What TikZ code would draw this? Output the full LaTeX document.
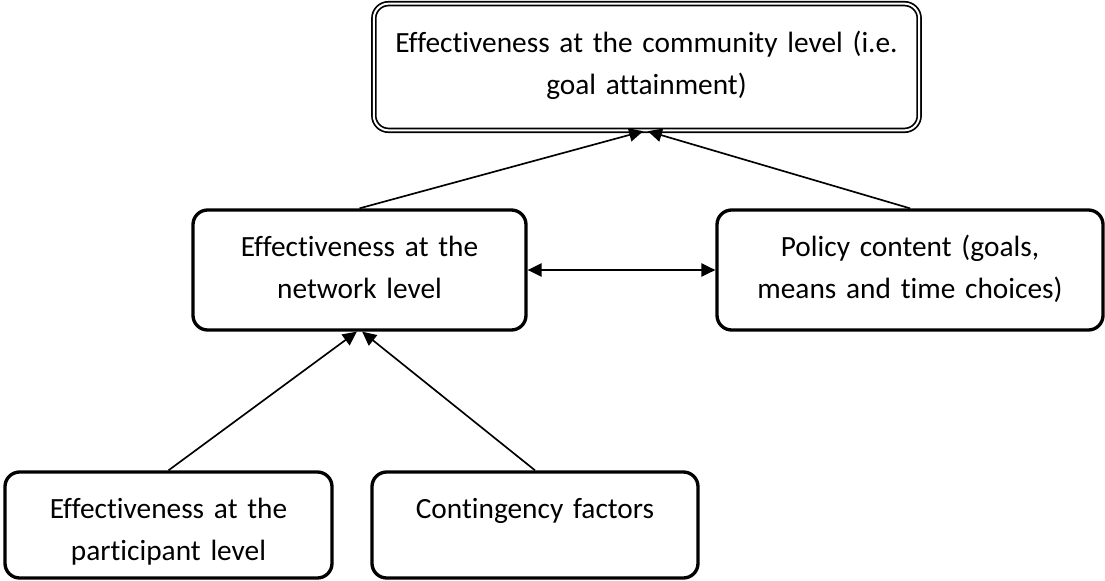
\documentclass[tikz,border=0pt]{standalone}
\usepackage{fontspec}
\setmainfont{Carlito}[Ligatures=NoCommon]
\usetikzlibrary{arrows.meta,positioning}

\begin{document}
\begin{tikzpicture}[
    x=0.75pt, y=-0.75pt,
    >={Triangle[length=10.5pt, width=10pt]},
    box/.style={rectangle, draw, line width=2.5pt, rounded corners=11pt, align=center, inner sep=0pt, text height=34.5pt, font={\fontsize{22pt}{32pt}\selectfont\spaceskip=\fontdimen2\font\relax}},
    goal/.style={box, double, line width=1.3pt, double distance=1.5pt},
    link/.style={->, line width=1.25pt}
]
\useasboundingbox (0,0) rectangle (1105,581);

% Boxes from top to bottom
\node[goal, minimum width=409pt, minimum height=95pt, text width=400pt, text height=36.3pt, text depth=58.7pt] (community) at (646.5,67) {Effectiveness at the community level (i.e.\\ goal attainment)};
\node[box, minimum width=249.75pt, minimum height=90pt, text width=240pt, text depth=55.5pt] (network) at (359.5,270) {Effectiveness at the\\ network level};
\node[box, minimum width=289.5pt, minimum height=90pt, text width=280pt, text depth=55.5pt] (policy) at (910,270) {Policy content (goals,\\ means and time choices)};
\node[box, minimum width=245.25pt, minimum height=79.5pt, text width=236pt, text depth=45pt] (participant) at (168.5,525) {Effectiveness at the\\ participant level};
\node[box, minimum width=244.5pt, minimum height=79.5pt, text width=236pt, text depth=45pt] (contingency) at (535,525) {Contingency factors};

% Arrows
\draw[link] (network.north) -- ([xshift=-2.5pt]community.south);
\draw[link] (policy.north) -- ([xshift=1pt]community.south);
\draw[link, <->] (network) -- (policy);
\draw[link] (participant.north) -- ([xshift=-2pt]network.south);
\draw[link] (contingency.north) -- ([xshift=2pt]network.south);

\end{tikzpicture}
\end{document}
